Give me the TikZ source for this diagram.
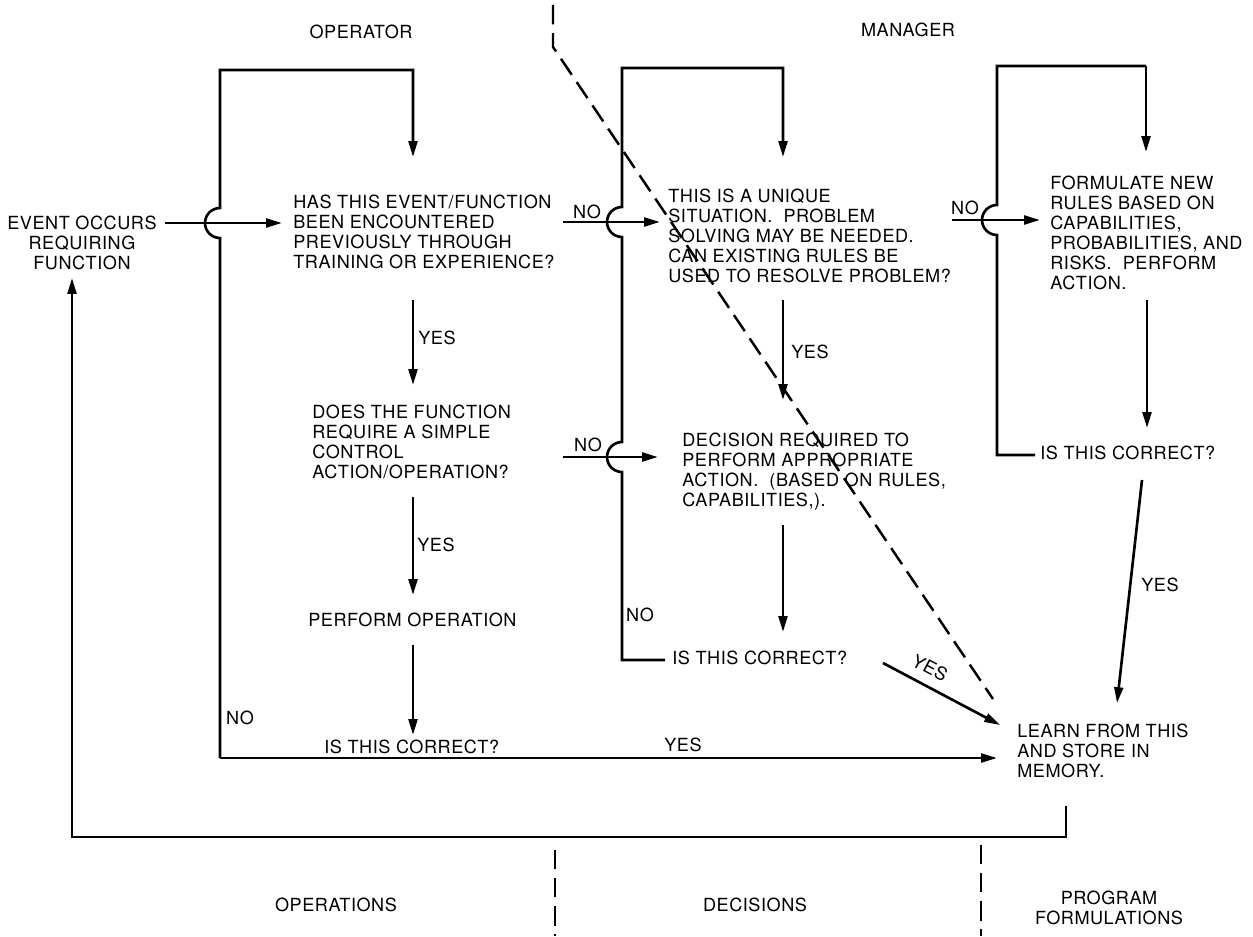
\documentclass[tikz,border=0pt]{standalone}
\usepackage{fontspec}
\setmainfont[LetterSpace=3.0]{TeX Gyre Heros}
\usetikzlibrary{arrows.meta}
\begin{document}
\begin{tikzpicture}[x=0.02cm,y=-0.02cm,
  txt/.style={font=\fontsize{10.3}{11.34}\selectfont, inner sep=0pt, align=left},
  lbl/.style={font=\fontsize{10.3}{11.34}\selectfont, inner sep=0pt},
  ln/.style={line width=1.5pt, line join=miter},
  arr/.style={ln, -{Triangle[length=9pt,width=5pt]}},
  dsh/.style={line width=1.4pt, dash pattern=on 11pt off 5pt}]
\useasboundingbox (0,0) rectangle (1253,936);

% ---- headings ----
\node[lbl] (operator) at (361,32) {OPERATOR};
\node[lbl] (manager) at (908,30) {MANAGER};
\node[lbl] (operations) at (336,905) {OPERATIONS};
\node[lbl] (decisions) at (755,905) {DECISIONS};
\node[lbl, align=center] (program) at (1109,908) {PROGRAM\\FORMULATIONS};

% ---- text blocks ----
\node[txt, align=center, anchor=north] (event) at (82,216) {EVENT OCCURS\\REQUIRING\\FUNCTION};
\node[txt, anchor=north west] (has) at (293,195) {HAS THIS EVENT/FUNCTION\\BEEN ENCOUNTERED\\PREVIOUSLY THROUGH\\TRAINING OR EXPERIENCE?};
\node[txt, anchor=north west] (unique) at (668,189) {THIS IS A UNIQUE\\SITUATION.\ \ PROBLEM\\SOLVING MAY BE NEEDED.\\CAN EXISTING RULES BE\\USED TO RESOLVE PROBLEM?};
\node[txt, anchor=north west] (formulate) at (1050,176) {FORMULATE NEW\\RULES BASED ON\\CAPABILITIES,\\PROBABILITIES, AND\\RISKS.\ \ PERFORM\\ACTION.};
\node[txt, anchor=north west] (does) at (312,405) {DOES THE FUNCTION\\REQUIRE A SIMPLE\\CONTROL\\ACTION/OPERATION?};
\node[txt, anchor=north west] (decision) at (682,433) {DECISION REQUIRED TO\\PERFORM APPROPRIATE\\ACTION.\ \ (BASED ON RULES,\\CAPABILITIES,).};
\node[lbl, anchor=west] (perform) at (308,620) {PERFORM OPERATION};
\node[lbl, anchor=west] (okop) at (324,747) {IS THIS CORRECT?};
\node[lbl, anchor=west] (okmgr) at (672,658) {IS THIS CORRECT?};
\node[lbl, anchor=west] (okprog) at (1040,453) {IS THIS CORRECT?};
\node[txt, anchor=north west] (learn) at (1017,724) {LEARN FROM THIS\\AND STORE IN\\MEMORY.};

% ---- small labels ----
\node[lbl] (y1) at (437,338) {YES};
\node[lbl] (y2) at (436,545) {YES};
\node[lbl] (y3) at (810,352) {YES};
\node[lbl] (y4) at (1160,585) {YES};
\node[lbl] (y5) at (683,745) {YES};
\node[lbl, rotate=-28] (y6) at (930,668) {YES};
\node[lbl] (n1) at (587,212) {NO};
\node[lbl] (n2) at (588,445) {NO};
\node[lbl] (n3) at (965,208) {NO};
\node[lbl] (n4) at (640,615) {NO};
\node[lbl] (n5) at (240,718) {NO};

% ---- coordinates ----
\coordinate (opC) at (220,758);
\coordinate (opT) at (220,70);
\coordinate (opTR) at (413,70);
\coordinate (opIn) at (413,157);
\coordinate (mgC) at (622,660);
\coordinate (mgT) at (622,68);
\coordinate (mgTR) at (783,68);
\coordinate (mgIn) at (783,157);
\coordinate (prC) at (997,455);
\coordinate (prT) at (997,66);
\coordinate (prTR) at (1146,66);
\coordinate (prIn) at (1146,152);
\coordinate (learnIn) at (997,758);
\coordinate (retA) at (1066,806);
\coordinate (retB) at (1066,837);
\coordinate (retC) at (72,837);
\coordinate (retD) at (72,278);

% ---- loops with hops ----
\draw[arr] (opC) -- (220,238) arc[start angle=270, end angle=90, radius=0.3cm] -- (opT) -- (opTR) -- (opIn);
\draw[arr] (665,660) -- (mgC) -- (622,472) arc[start angle=270, end angle=90, radius=0.3cm]
   -- (622,237) arc[start angle=270, end angle=90, radius=0.3cm] -- (mgT) -- (mgTR) -- (mgIn);
\draw[ln] (1035,455) -- (prC) -- (997,235) arc[start angle=270, end angle=90, radius=0.3cm] -- (prT) -- (prTR);
\draw[arr] (prTR) -- (prIn);

% ---- horizontal arrows ----
\draw[arr] (165,223) -- (282,223);
\draw[arr] (563,222) -- (660,222);
\draw[arr] (563,457) -- (658,457);
\draw[arr] (952,220) -- (1040,220);
\draw[arr] (opC) -- (learnIn);

% ---- vertical arrows ----
\draw[arr] (413,300) -- (413,385);
\draw[arr] (413,497) -- (413,595);
\draw[arr] (413,645) -- (413,735);
\draw[arr] (783,300) -- (783,400);
\draw[arr] (783,525) -- (783,632);
\draw[arr] (1147,300) -- (1147,428);

% ---- diagonal arrows ----
\draw[arr] (883,663) -- (1000,725);
\draw[arr] (1142,480) -- (1117,703);

% ---- return ----
\draw[arr] (retA) -- (retB) -- (retC) -- (retD);

% ---- dashed boundaries ----
\draw[dsh] (553,5) -- (553,47) -- (993,699);
\draw[dsh] (555,850) -- (555,936);
\draw[dsh] (981,845) -- (981,936);
\end{tikzpicture}
\end{document}
